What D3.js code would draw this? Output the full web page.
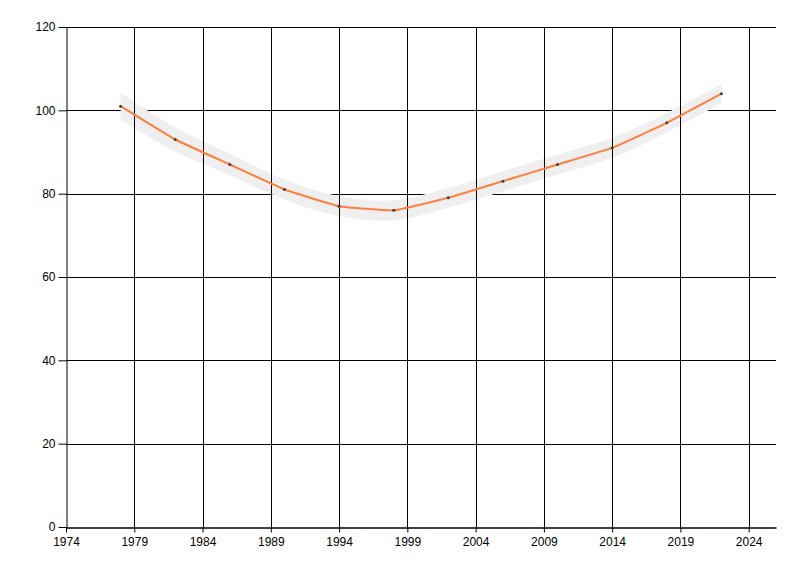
<!DOCTYPE html>
<html>
<head>
<meta charset="utf-8">
<script src="https://cdn.jsdelivr.net/npm/d3@7"></script>
<style>
  html, body { margin: 0; padding: 0; background: #fff; }
  svg { display: block; }
  text { font-family: "Liberation Sans", Arial, sans-serif; font-size: 12px; fill: #000; }
</style>
</head>
<body>
<svg id="chart" width="800" height="576"></svg>
<script>
const years = [1978, 1982, 1986, 1990, 1994, 1998, 2002, 2006, 2010, 2014, 2018, 2022];
const values = [101, 93, 87, 81, 77, 76, 79, 83, 87, 91, 97, 104];
const upper = [104.2, 95.9, 89.6, 83.4, 79.4, 78.4, 81.4, 85.4, 89.4, 93.4, 99.3, 106.3];
const lower = [97.8, 90.1, 84.4, 78.6, 74.6, 73.6, 76.6, 80.6, 84.6, 88.6, 94.7, 101.7];
const xTicks = [1974, 1979, 1984, 1989, 1994, 1999, 2004, 2009, 2014, 2019, 2024];
const yTicks = [0, 20, 40, 60, 80, 100, 120];

const svg = d3.select("#chart");
const pLeft = 66, pRight = 776, pTop = 27, pBottom = 527;

const x = d3.scaleLinear().domain([1974, 2026]).range([pLeft, pRight]);
const y = d3.scaleLinear().domain([0, 120]).range([pBottom, pTop]);

const data = years.map((yr, i) => ({ yr, v: values[i], lo: lower[i], hi: upper[i] }));

// horizontal gridlines (under the band)
svg.append("g").selectAll("line").data(yTicks.filter(d => d > 0)).join("line")
  .attr("x1", pLeft).attr("x2", pRight)
  .attr("y1", d => Math.round(y(d)) + 0.5).attr("y2", d => Math.round(y(d)) + 0.5)
  .attr("stroke", "#000").attr("stroke-width", 1);

// confidence band
const area = d3.area()
  .x(d => x(d.yr)).y0(d => y(d.lo)).y1(d => y(d.hi))
  .curve(d3.curveCatmullRom);
svg.append("path").datum(data).attr("d", area).attr("fill", "#efefef");

// vertical gridlines (over the band)
svg.append("g").selectAll("line").data(xTicks.filter(d => d > 1974)).join("line")
  .attr("x1", d => Math.round(x(d)) + 0.5).attr("x2", d => Math.round(x(d)) + 0.5)
  .attr("y1", pTop).attr("y2", pBottom)
  .attr("stroke", "#000").attr("stroke-width", 1);

// line
const line = d3.line().x(d => x(d.yr)).y(d => y(d.v)).curve(d3.curveCardinal.tension(0.7));
svg.append("path").datum(data).attr("d", line)
  .attr("fill", "none").attr("stroke", "#ff7f3f").attr("stroke-width", 2);

// points
svg.append("g").selectAll("circle").data(data).join("circle")
  .attr("cx", d => x(d.yr)).attr("cy", d => y(d.v)).attr("r", 1.5)
  .attr("fill", "#404040");

// axes
const xAxis = d3.axisBottom(x).tickValues(xTicks).tickFormat(d3.format("d")).tickSize(5).tickSizeOuter(0);
const gx = svg.append("g").attr("transform", `translate(0,${pBottom + 0.5})`).call(xAxis);
gx.select(".domain").attr("stroke", "#000").attr("stroke-width", 1.5);
gx.selectAll("text").attr("dy", "0.9em").style("font-family", "Liberation Sans, Arial, sans-serif").style("font-size", "12px");

const yAxis = d3.axisLeft(y).tickValues(yTicks).tickFormat(d3.format("d")).tickSize(8).tickSizeOuter(0);
const gy = svg.append("g").attr("transform", `translate(${pLeft + 0.5},0)`).call(yAxis);
gy.select(".domain").attr("stroke", "#000");
gy.selectAll("text").attr("x", -11).style("font-family", "Liberation Sans, Arial, sans-serif").style("font-size", "12px");
</script>
</body>
</html>
